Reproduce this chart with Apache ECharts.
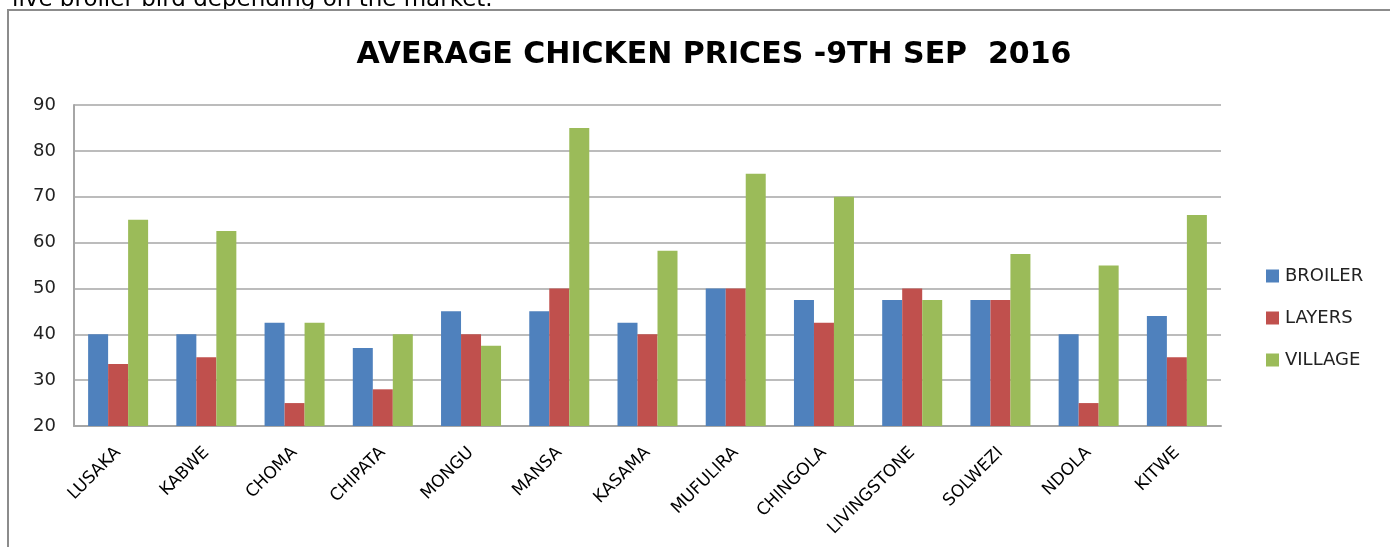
<!DOCTYPE html>
<html><head><meta charset="utf-8">
<script src="https://cdn.jsdelivr.net/npm/echarts@6/dist/echarts.min.js"></script>
<style>html,body{margin:0;padding:0;background:#fff}#c{width:1390px;height:547px}</style>
</head><body><div id="c"></div>
<script>
const categories = ['LUSAKA','KABWE','CHOMA','CHIPATA','MONGU','MANSA','KASAMA','MUFULIRA','CHINGOLA','LIVINGSTONE','SOLWEZI','NDOLA','KITWE'];
const broiler = [40, 40, 42.5, 37, 45, 45, 42.5, 50, 47.5, 47.5, 47.5, 40, 44];
const layers  = [33.5, 35, 25, 28, 40, 50, 40, 50, 42.5, 50, 47.5, 25, 35];
const village = [65, 62.5, 42.5, 40, 37.5, 85, 58.2, 75, 70, 47.5, 57.5, 55, 66];
const yTicks = [20, 30, 40, 50, 60, 70, 80, 90];

const chart = echarts.init(document.getElementById('c'), null, {renderer:'canvas'});
const font = '"DejaVu Sans", sans-serif';
chart.setOption({
  animation: false,
  backgroundColor: '#fff',
  title: {
    text: 'AVERAGE CHICKEN PRICES -9TH SEP  2016',
    left: 709, top: 35, textAlign: 'center',
    textStyle: {fontFamily: font, fontWeight: 'bold', fontSize: 30, color: '#000'}
  },
  graphic: [
    {type:'text', x: 12, y: 12, style:{text:'live broiler bird depending on the market.', font:'23px "DejaVu Sans", sans-serif', fill:'#000', verticalAlign:'bottom'}},
    {type:'rect', shape:{x:8, y:10, width:1400, height:560}, style:{fill:'none', stroke:'#8c8c8c', lineWidth:2}}
  ],
  legend: {
    orient: 'vertical', left: 1266, top: 267, itemGap: 24, padding: 0,
    itemWidth: 13, itemHeight: 13, icon: 'rect',
    textStyle: {fontFamily: font, fontSize: 18, color: '#222', padding: [0,0,0,1]},
    data: ['BROILER','LAYERS','VILLAGE']
  },
  grid: {left: 74, right: 169, top: 105, bottom: 121},
  xAxis: {
    type: 'category', data: categories,
    axisLine: {lineStyle: {color: '#a6a6a6', width: 2}},
    axisTick: {show: false},
    axisLabel: {rotate: 45, fontFamily: font, fontSize: 17, color: '#000', interval: 0, margin: 24}
  },
  yAxis: {
    type: 'value', min: 20, max: 90, interval: 10,
    axisLine: {show: true, lineStyle: {color: '#a6a6a6', width: 2}},
    axisTick: {show: false},
    splitLine: {lineStyle: {color: '#a6a6a6', width: 1.5}},
    axisLabel: {fontFamily: font, fontSize: 18, color: '#222', margin: 18,
      formatter: v => yTicks.includes(v) ? String(v) : ''}
  },
  series: [
    {name:'BROILER', type:'bar', data: broiler, barWidth: 20, barGap: '0%', itemStyle:{color:'#4f81bd'}},
    {name:'LAYERS', type:'bar', data: layers, barWidth: 20, barGap: '0%', itemStyle:{color:'#c0504d'}},
    {name:'VILLAGE', type:'bar', data: village, barWidth: 20, barGap: '0%', itemStyle:{color:'#9bbb59'}}
  ]
});
</script></body></html>
